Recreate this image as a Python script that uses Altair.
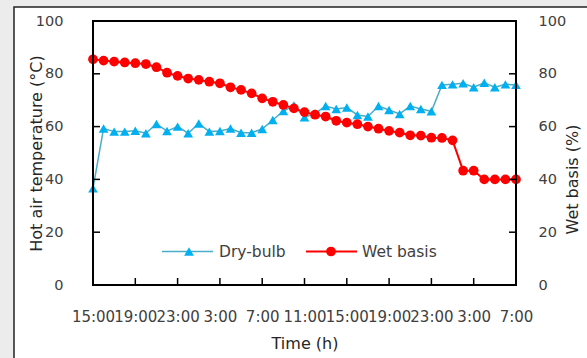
import altair as alt
import pandas as pd

# ---- data ----
hours = [0, 1, 2, 3, 4, 5, 6, 7, 8, 9, 10, 11, 12, 13, 14, 15, 16, 17, 18, 19, 20,
         21, 22, 23, 24, 25, 26, 27, 28, 29, 30, 31, 32, 33, 34, 35, 36, 37, 38, 39, 40]
dry_bulb = [36.6, 59.3, 58.1, 58.1, 58.4, 57.5, 61.0, 58.3, 60.0, 57.5, 61.2,
            58.1, 58.3, 59.3, 57.7, 57.7, 59.1, 62.5, 65.9, 68.0, 63.5,
            65.0, 67.8, 66.7, 67.2, 64.4, 63.8, 67.8, 66.3, 64.8, 67.8,
            66.7, 65.8, 75.8, 76.0, 76.4, 74.9, 76.6, 74.9, 76.0, 75.8]
wet_basis = [85.5, 85.0, 84.6, 84.3, 84.0, 83.7, 82.5, 80.4, 79.2, 78.2, 77.7,
             77.0, 76.4, 74.9, 73.9, 72.6, 70.7, 69.4, 68.2, 66.9, 65.5,
             64.5, 63.8, 62.2, 61.5, 60.9, 60.0, 59.2, 58.4, 57.7, 56.7,
             56.6, 55.8, 55.7, 54.8, 43.3, 43.3, 40.0, 40.0, 40.0, 40.0]
x_tick_hours = [0, 4, 8, 12, 16, 20, 24, 28, 32, 36, 40]
x_tick_labels = ["15:00", "19:00", "23:00", "3:00", "7:00", "11:00",
                 "15:00", "19:00", "23:00", "3:00", "7:00"]
y_ticks = [0, 20, 40, 60, 80, 100]
series_names = ["Dry-bulb", "Wet basis"]

df = pd.DataFrame({"hour": hours, "dry": dry_bulb, "wet": wet_basis})
xt = pd.DataFrame({"hour": x_tick_hours})
yt = pd.DataFrame({"v": y_ticks})
one = pd.DataFrame({"a": [0]})

W, H = 423, 264
FONT = "DejaVu Sans"
LBL = "#404040"
TTL = "#262626"
BLUE_LINE = "#4BACC6"
BLUE_MK = "#00B0F0"
RED = "#FF0000"
TRI = 95
CIR = 95

label_expr = "[" + ",".join("'" + s + "'" for s in x_tick_labels) + "][round(datum.value/4)]"

x_axis = alt.Axis(values=x_tick_hours, labelExpr=label_expr, labelOverlap=False,
                  labelFlush=False, labelBound=False, ticks=False, tickSize=0,
                  domain=False, grid=False, labelPadding=31, labelBaseline="middle",
                  labelFont=FONT, labelFontSize=15, labelColor=LBL,
                  title="Time (h)", titleFont=FONT, titleFontSize=16,
                  titleFontWeight="normal", titleColor=TTL, titleX=W / 2,
                  titleY=58, titleAlign="center", titleBaseline="middle", zindex=1)
x_enc = alt.X("hour:Q", scale=alt.Scale(domain=[0, 40], nice=False, zero=False), axis=x_axis)
y_scale = alt.Scale(domain=[0, 100], nice=False)

left_axis = alt.Axis(orient="left", values=y_ticks, ticks=False, tickSize=0, domain=False,
                     grid=False, labelPadding=30, labelFont=FONT, labelFontSize=14.5,
                     labelColor=LBL, title="Hot air temperature (°C)", titleFont=FONT,
                     titleFontSize=16, titleFontWeight="normal", titleColor=TTL,
                     titleAngle=270, titleX=-57, titleY=132, titleAlign="center",
                     titleBaseline="middle", zindex=1)
right_axis = alt.Axis(orient="right", values=y_ticks, ticks=False, tickSize=0, domain=False,
                      grid=False, labelPadding=22, labelAlign="left", labelFont=FONT,
                      labelFontSize=14.5, labelColor=LBL, title="Wet basis (%)",
                      titleFont=FONT, titleFontSize=16, titleFontWeight="normal",
                      titleColor=TTL, titleAngle=270, titleX=56, titleY=158,
                      titleAlign="center", titleBaseline="middle", zindex=1)

# outer white frame (figure box) and plot border
frame = alt.Chart(one).mark_rect(fill="white", stroke="#222222", strokeWidth=1.5).encode(
    x=alt.value(-79), x2=alt.value(530), y=alt.value(-14), y2=alt.value(370))
border = alt.Chart(one).mark_rect(fill=None, stroke="black", strokeWidth=2).encode(
    x=alt.value(0), x2=alt.value(W), y=alt.value(0), y2=alt.value(H))

# inward tick marks
x_ticks_l = alt.Chart(xt).mark_rule(color="black", strokeWidth=1.5).encode(
    x=x_enc, y=alt.value(H), y2=alt.value(H - 7))
yl_ticks = alt.Chart(yt).mark_rule(color="black", strokeWidth=1.5).encode(
    y=alt.Y("v:Q", scale=y_scale, axis=None), x=alt.value(0), x2=alt.value(7))
yr_ticks = alt.Chart(yt).mark_rule(color="black", strokeWidth=1.5).encode(
    y=alt.Y("v:Q", scale=y_scale, axis=None), x=alt.value(W - 7), x2=alt.value(W))

base = alt.Chart(df)
dry = alt.layer(
    base.mark_line(color=BLUE_LINE, strokeWidth=1.5).encode(
        x=x_enc, y=alt.Y("dry:Q", scale=y_scale, axis=left_axis)),
    base.mark_point(shape="triangle-up", filled=True, color=BLUE_MK, size=TRI, opacity=1).encode(
        x=x_enc, y=alt.Y("dry:Q", scale=y_scale, axis=left_axis)),
)
wet = alt.layer(
    base.mark_line(color=RED, strokeWidth=2).encode(
        x=x_enc, y=alt.Y("wet:Q", scale=y_scale, axis=right_axis)),
    base.mark_circle(color=RED, size=CIR, opacity=1).encode(
        x=x_enc, y=alt.Y("wet:Q", scale=y_scale, axis=right_axis)),
)

# legend (inside the plot)
LY = 230.5
leg = [
    alt.Chart(one).mark_rule(color=BLUE_LINE, strokeWidth=1.5).encode(
        x=alt.value(69), x2=alt.value(120), y=alt.value(LY)),
    alt.Chart(one).mark_point(shape="triangle-up", filled=True, color=BLUE_MK, size=TRI, opacity=1).encode(
        x=alt.value(96), y=alt.value(LY)),
    alt.Chart(one).mark_text(align="left", baseline="middle", font=FONT, fontSize=15.5, color=LBL).encode(
        x=alt.value(126), y=alt.value(LY), text=alt.value(series_names[0])),
    alt.Chart(one).mark_rule(color=RED, strokeWidth=2).encode(
        x=alt.value(213), x2=alt.value(264), y=alt.value(LY)),
    alt.Chart(one).mark_circle(color=RED, size=CIR, opacity=1).encode(
        x=alt.value(238), y=alt.value(LY)),
    alt.Chart(one).mark_text(align="left", baseline="middle", font=FONT, fontSize=15.5, color=LBL).encode(
        x=alt.value(269), y=alt.value(LY), text=alt.value(series_names[1])),
]

chart = alt.layer(frame, dry, wet, x_ticks_l, yl_ticks, yr_ticks, border, *leg).resolve_scale(
    y="independent").properties(
    width=W, height=H,
    autosize=alt.AutoSizeParams(type="none"),
    padding={"left": 93, "top": 21, "right": 587 - 93 - W, "bottom": 358 - 21 - H},
    background="#ececec",
).configure_view(strokeWidth=0)

chart.save("out.html", embed_options={"renderer": "svg", "actions": False})
